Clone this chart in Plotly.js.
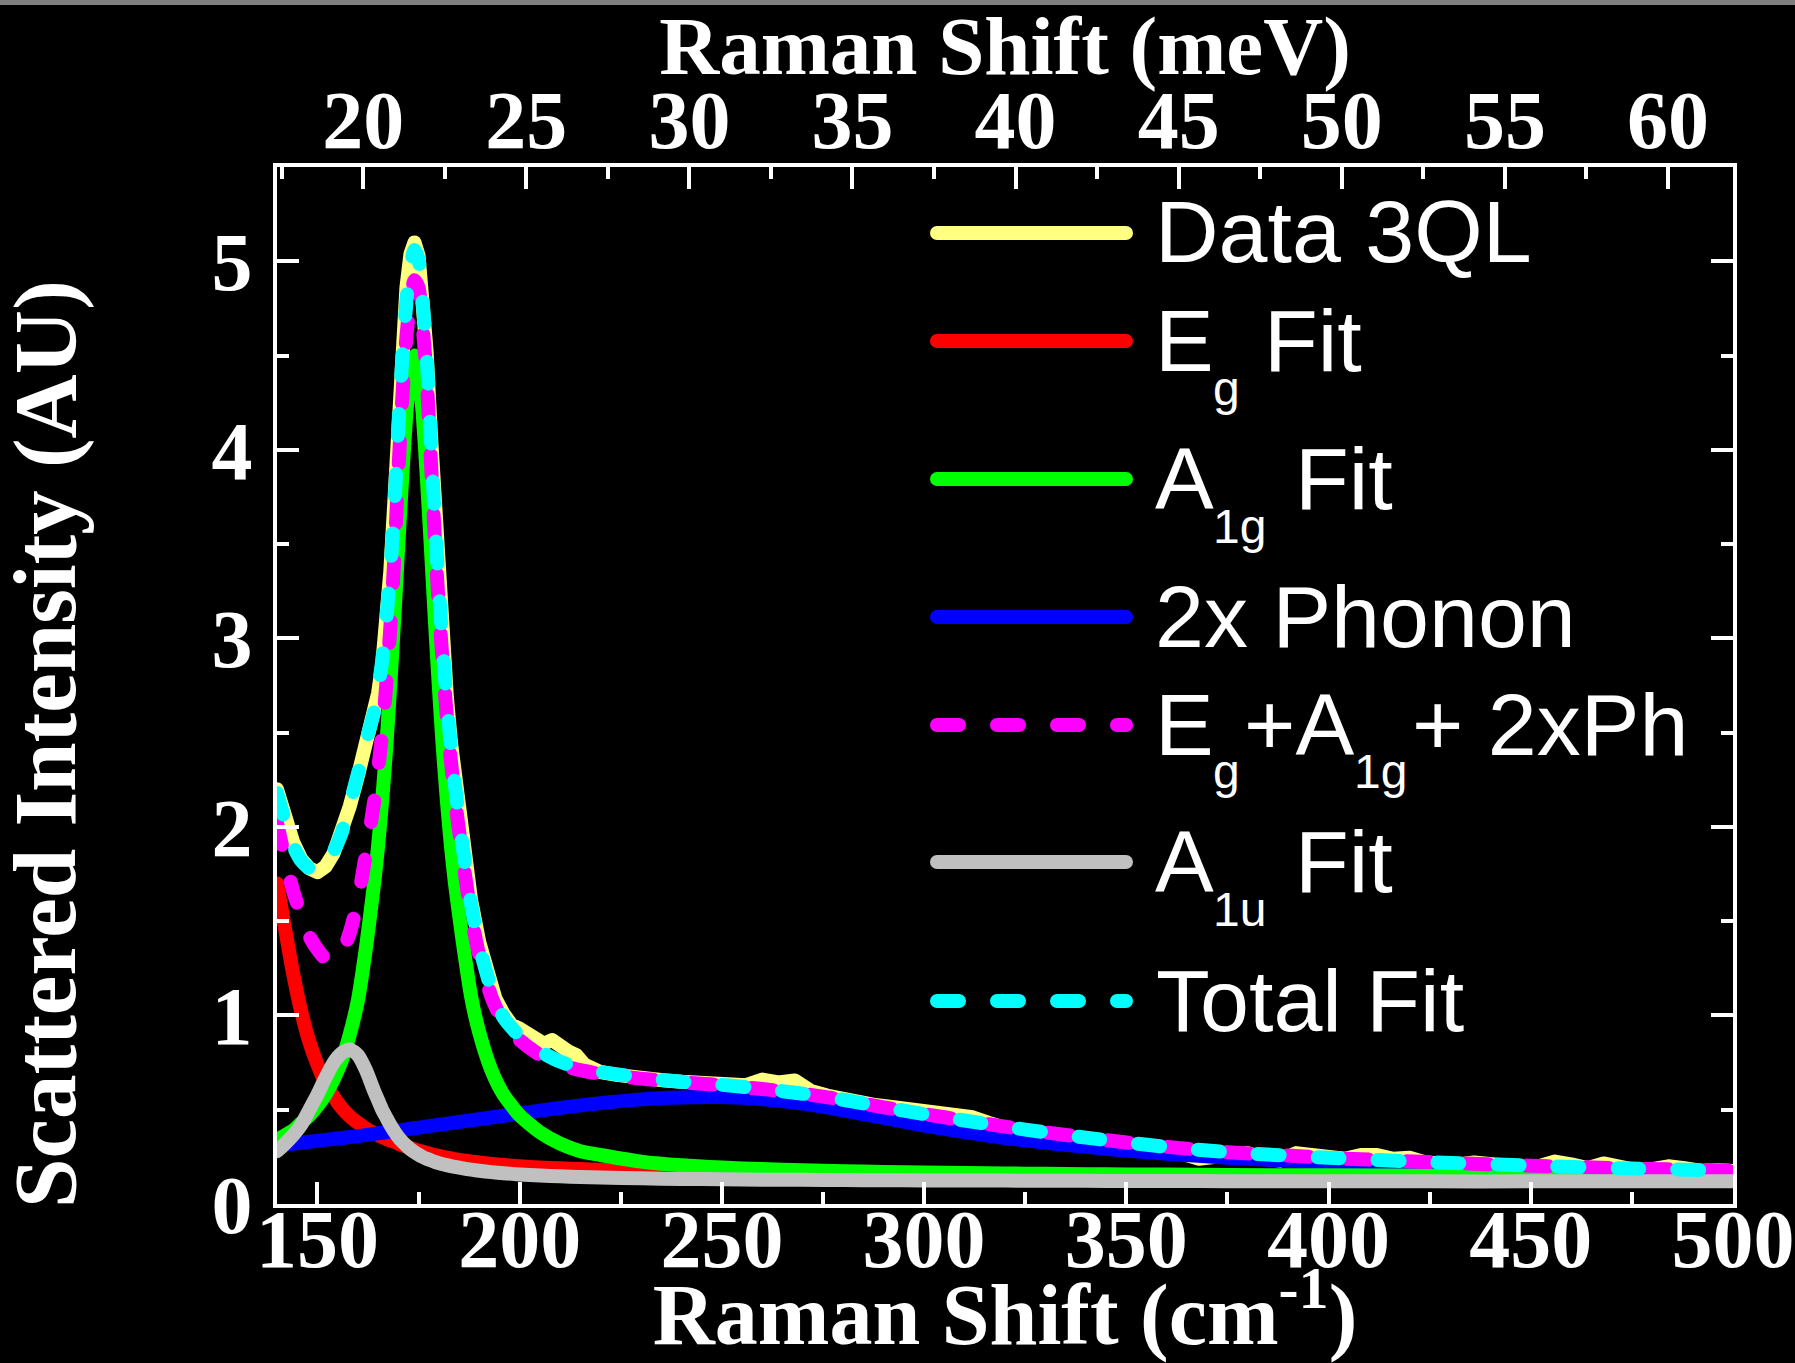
<!DOCTYPE html>
<html>
<head>
<meta charset="utf-8">
<script src="https://cdn.plot.ly/plotly-3.0.1.min.js"></script>
<style>
  html, body { margin: 0; padding: 0; background: #000; }
  #chart { width: 1795px; height: 1363px; }
  .scatterlayer .js-line { stroke-linecap: round; stroke-linejoin: round; }
  .shapelayer path { stroke-linecap: round; }
</style>
</head>
<body>
<div id="chart"></div>
<script>
// ---------- DATA ----------
// Raman shift (cm^-1) of the measured spectrum
const shiftData = [140,142,144,146,148,150,152,154,156,158,160,162,164,165,166,167,168,169,170,171,172,173,174,175,176,177,178,179,180,181,182,183,184,186,188,190,192,194,196,198,200,202,204,206,208,210,212,214,216,218,220,224,228,232,236,240,244,248,252,256,260,264,268,272,276,280,284,288,292,296,300,304,308,312,316,320,324,328,332,336,340,344,348,352,356,360,364,368,372,376,380,384,388,392,396,400,404,408,412,416,420,424,428,432,436,440,444,448,452,456,460,464,468,472,476,480,484,488,492,496,500];
// Scattered intensity of "Data 3QL"
const data3QL = [2.20,2.05,1.92,1.83,1.78,1.76,1.79,1.86,1.97,2.11,2.27,2.44,2.60,2.71,2.86,3.07,3.35,3.72,4.16,4.56,4.86,5.04,5.10,5.03,4.80,4.52,4.10,3.67,3.29,2.97,2.69,2.45,2.25,1.91,1.61,1.39,1.21,1.09,1.01,0.95,0.93,0.90,0.89,0.85,0.87,0.83,0.81,0.79,0.74,0.72,0.70,0.685,0.67,0.66,0.655,0.648,0.64,0.632,0.625,0.63,0.66,0.645,0.655,0.60,0.575,0.555,0.55,0.525,0.515,0.505,0.50,0.495,0.475,0.46,0.43,0.40,0.38,0.35,0.325,0.33,0.34,0.32,0.29,0.29,0.30,0.29,0.26,0.24,0.25,0.26,0.27,0.24,0.23,0.27,0.26,0.25,0.24,0.26,0.26,0.24,0.245,0.22,0.21,0.21,0.22,0.21,0.20,0.195,0.20,0.225,0.21,0.19,0.215,0.19,0.18,0.185,0.20,0.19,0.175,0.18,0.175];

// Raman shift (cm^-1) grid of the fitted curves
const shiftFit = [140,142,144,146,148,150,152,154,156,158,160,162,164,165,166,167,168,169,170,171,172,173,174,175,176,177,178,179,180,181,182,183,184,186,188,190,193,196,200,205,210,215,220,230,240,250,260,270,280,290,300,310,320,330,340,350,360,375,400,425,450,475,500];
const egFit = [1.70,1.46,1.22,1.02,0.86,0.74,0.64,0.57,0.51,0.465,0.43,0.40,0.375,0.365,0.355,0.345,0.337,0.33,0.32,0.312,0.304,0.297,0.29,0.283,0.277,0.271,0.265,0.26,0.255,0.25,0.246,0.242,0.238,0.231,0.225,0.22,0.213,0.207,0.20,0.194,0.189,0.185,0.181,0.175,0.17,0.166,0.162,0.159,0.156,0.154,0.152,0.15,0.148,0.147,0.146,0.145,0.144,0.142,0.14,0.139,0.138,0.137,0.136];
const a1gFit = [0.34,0.365,0.39,0.43,0.47,0.52,0.58,0.66,0.76,0.90,1.08,1.36,1.70,1.90,2.14,2.42,2.75,3.11,3.50,3.87,4.20,4.42,4.50,4.42,4.20,3.87,3.50,3.11,2.75,2.42,2.14,1.90,1.70,1.38,1.10,0.91,0.71,0.58,0.47,0.38,0.32,0.28,0.26,0.225,0.205,0.193,0.185,0.179,0.174,0.17,0.167,0.164,0.162,0.16,0.158,0.157,0.156,0.154,0.152,0.151,0.15,0.149,0.148];
const phonon2x = [0.31,0.315,0.32,0.325,0.33,0.335,0.34,0.345,0.35,0.355,0.36,0.366,0.372,0.375,0.378,0.381,0.384,0.387,0.39,0.393,0.396,0.399,0.402,0.405,0.408,0.411,0.414,0.417,0.42,0.423,0.426,0.429,0.432,0.438,0.444,0.45,0.459,0.468,0.48,0.495,0.51,0.523,0.535,0.555,0.565,0.567,0.556,0.532,0.497,0.457,0.416,0.381,0.35,0.325,0.303,0.283,0.267,0.245,0.22,0.203,0.19,0.179,0.17];
const egA1gPh = [2.02,1.83,1.66,1.53,1.42,1.35,1.30,1.29,1.33,1.44,1.61,1.86,2.13,2.30,2.50,2.75,3.05,3.42,3.88,4.28,4.60,4.80,4.90,4.86,4.66,4.38,3.96,3.54,3.17,2.86,2.58,2.35,2.15,1.82,1.53,1.32,1.10,0.96,0.87,0.79,0.74,0.71,0.69,0.665,0.645,0.63,0.61,0.585,0.553,0.513,0.477,0.443,0.41,0.38,0.352,0.326,0.303,0.275,0.245,0.222,0.203,0.188,0.177];
const a1uFit = [0.28,0.32,0.365,0.42,0.50,0.58,0.67,0.75,0.80,0.82,0.79,0.71,0.60,0.55,0.50,0.46,0.42,0.385,0.355,0.33,0.31,0.29,0.275,0.262,0.25,0.24,0.232,0.224,0.217,0.211,0.206,0.201,0.197,0.189,0.182,0.176,0.169,0.163,0.157,0.151,0.147,0.143,0.14,0.136,0.133,0.131,0.129,0.128,0.127,0.126,0.125,0.124,0.124,0.123,0.123,0.122,0.122,0.121,0.121,0.12,0.12,0.12,0.12];
const totalFit = [2.18,2.03,1.90,1.82,1.78,1.77,1.80,1.87,1.97,2.12,2.28,2.45,2.61,2.73,2.88,3.09,3.35,3.69,4.12,4.49,4.79,4.98,5.06,5.01,4.79,4.50,4.07,3.64,3.27,2.95,2.66,2.43,2.22,1.88,1.59,1.37,1.14,0.99,0.89,0.81,0.755,0.72,0.70,0.67,0.648,0.632,0.611,0.585,0.553,0.513,0.477,0.443,0.41,0.38,0.352,0.326,0.303,0.275,0.245,0.222,0.203,0.188,0.177];

// Axis settings
const xRangeCm = [140, 500];
const yRange = [0, 5.5];
const cmPerMeV = 8.0655;

// ---------- LAYOUT HELPERS ----------
const W = 1795, H = 1363;
const M = {l: 277, r: 62, t: 167, b: 159};
const PW = W - M.l - M.r, PH = H - M.t - M.b;
const px2x = p => (p - M.l) / PW;
const px2y = p => (M.t + PH - p) / PH;

const serif = {family: 'Liberation Serif, Times New Roman, serif', color: '#ffffff', weight: 'bold'};
const sans = 'Liberation Sans, Arial, sans-serif';

const LW = 14;
const DASH = '22px,38px';

function line(x, y, name, color, dash, shape) {
  return {
    type: 'scatter', mode: 'lines', x: x, y: y, name: name,
    line: {color: color, width: LW, dash: dash || 'solid', shape: shape || 'linear', smoothing: 0.6},
    showlegend: false, hoverinfo: 'skip'
  };
}

const traces = [
  line(shiftData, data3QL, 'Data 3QL', '#ffff80'),
  line(shiftFit, egFit, 'Eg Fit', '#ff0000', 'solid', 'spline'),
  line(shiftFit, phonon2x, '2x Phonon', '#0000ff', 'solid', 'spline'),
  line(shiftFit, a1gFit, 'A1g Fit', '#00ff00', 'solid', 'spline'),
  line(shiftFit, egA1gPh, 'Eg+A1g+2xPh', '#ff00ff', DASH, 'spline'),
  line(shiftFit, a1uFit, 'A1u Fit', '#c0c0c0', 'solid', 'spline'),
  line(shiftFit, totalFit, 'Total Fit', '#00ffff', DASH, 'spline'),
  {type: 'scatter', mode: 'lines', x: [], y: [], xaxis: 'x2', yaxis: 'y', showlegend: false, hoverinfo: 'skip'}
];

// ---------- CUSTOM LEGEND ----------
const legendItems = [
  {color: '#ffff80', dash: 'solid', yc: 233, pieces: [{t: 'Data 3QL', x: 1155}]},
  {color: '#ff0000', dash: 'solid', yc: 341, pieces: [{t: 'E', x: 1155}, {t: 'g', x: 1213, sub: true}, {t: 'Fit', x: 1264}]},
  {color: '#00ff00', dash: 'solid', yc: 479, pieces: [{t: 'A', x: 1155}, {t: '1g', x: 1213, sub: true}, {t: 'Fit', x: 1295}]},
  {color: '#0000ff', dash: 'solid', yc: 617, pieces: [{t: '2x Phonon', x: 1155}]},
  {color: '#ff00ff', dash: DASH, yc: 725, pieces: [{t: 'E', x: 1155}, {t: 'g', x: 1213, sub: true}, {t: '+A', x: 1244}, {t: '1g', x: 1354, sub: true}, {t: '+ 2xPh', x: 1412}]},
  {color: '#c0c0c0', dash: 'solid', yc: 862, pieces: [{t: 'A', x: 1155}, {t: '1u', x: 1213, sub: true}, {t: 'Fit', x: 1295}]},
  {color: '#00ffff', dash: DASH, yc: 1001, pieces: [{t: 'Total Fit', x: 1156}]}
];

const shapes = [
  // thin grey strip at the very top of the picture
  {type: 'rect', xref: 'paper', yref: 'paper', x0: px2x(0), x1: px2x(W), y0: px2y(0), y1: px2y(5),
   fillcolor: '#808080', line: {width: 0}, layer: 'above'}
];
const annotations = [];
legendItems.forEach(it => {
  shapes.push({type: 'line', xref: 'paper', yref: 'paper',
    x0: px2x(937), x1: px2x(1126), y0: px2y(it.yc), y1: px2y(it.yc),
    line: {color: it.color, width: LW, dash: it.dash}});
  it.pieces.forEach(p => {
    annotations.push({
      xref: 'paper', yref: 'paper', showarrow: false,
      x: px2x(p.x), y: px2y(p.sub ? it.yc + 47 : it.yc - 1),
      xanchor: 'left', yanchor: 'middle', borderpad: 0, borderwidth: 0,
      text: p.t, font: {family: sans, size: p.sub ? 48 : 88, color: '#ffffff'}
    });
  });
});
// y-axis title
annotations.push({
  xref: 'paper', yref: 'paper', showarrow: false,
  x: px2x(45), y: px2y(744), xanchor: 'center', yanchor: 'middle', textangle: -90,
  borderpad: 0, borderwidth: 0,
  text: 'Scattered Intensity (AU)', font: Object.assign({}, serif, {size: 89})
});

const axBase = {
  showline: true, linecolor: '#ffffff', linewidth: 4,
  ticks: 'inside', ticklen: 22, tickwidth: 4, tickcolor: '#ffffff',
  showgrid: false, zeroline: false,
  tickfont: Object.assign({}, serif, {size: 82})
};
const minorBase = {ticks: 'inside', ticklen: 12, tickwidth: 4, tickcolor: '#ffffff', showgrid: false};

const layout = {
  width: W, height: H,
  margin: M,
  paper_bgcolor: '#000000', plot_bgcolor: '#000000',
  showlegend: false,
  xaxis: Object.assign({}, axBase, {
    range: xRangeCm, tickmode: 'linear', tick0: 0, dtick: 50,
    minor: Object.assign({}, minorBase, {dtick: 25}),
    ticklabelstandoff: -39,
    title: {text: 'Raman Shift (cm<sup>-1</sup>)', font: Object.assign({}, serif, {size: 86}), standoff: 60}
  }),
  xaxis2: Object.assign({}, axBase, {
    overlaying: 'x', side: 'top', anchor: 'y',
    range: [xRangeCm[0] / cmPerMeV, xRangeCm[1] / cmPerMeV],
    tickmode: 'linear', tick0: 0, dtick: 5,
    minor: Object.assign({}, minorBase, {dtick: 2.5}),
    ticklabelstandoff: -18,
    title: {text: 'Raman Shift (meV)', font: Object.assign({}, serif, {size: 83}), standoff: 32}
  }),
  yaxis: Object.assign({}, axBase, {
    range: yRange, tickmode: 'linear', tick0: 0, dtick: 1,
    minor: Object.assign({}, minorBase, {dtick: 0.5}),
    mirror: 'ticks',
    ticklabelstandoff: 4
  }),
  shapes: shapes,
  annotations: annotations
};

Plotly.newPlot('chart', traces, layout, {displayModeBar: false, staticPlot: true});
</script>
</body>
</html>
